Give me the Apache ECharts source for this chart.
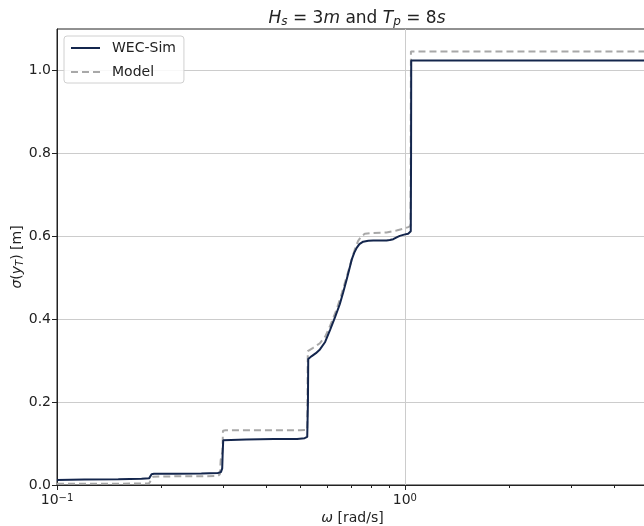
<!DOCTYPE html>
<html>
<head>
<meta charset="utf-8">
<script src="https://cdn.jsdelivr.net/npm/echarts@6/dist/echarts.min.js"></script>
<style>
html,body{margin:0;padding:0;background:#fff;}
#c{width:644px;height:526px;}
</style>
</head>
<body>
<div id="c"></div>
<script>
// ---- data ----
const wecOmega = [0.100,0.120,0.150,0.175,0.184,0.1855,0.187,0.190,0.220,0.260,0.290,0.296,0.2985,0.2995,0.3005,0.303,0.350,0.420,0.490,0.515,0.524,0.5265,0.5275,0.532,0.540,0.555,0.570,0.590,0.610,0.630,0.650,0.665,0.680,0.692,0.703,0.715,0.727,0.740,0.759,0.785,0.811,0.850,0.886,0.905,0.926,0.950,0.967,0.995,1.022,1.035,1.040,1.042,1.043,2.000,5.000];
const wecSigma = [0.012,0.013,0.014,0.015,0.016,0.020,0.026,0.027,0.027,0.028,0.029,0.031,0.040,0.080,0.108,0.110,0.110,0.111,0.111,0.113,0.116,0.200,0.304,0.306,0.311,0.318,0.327,0.345,0.375,0.405,0.436,0.465,0.495,0.520,0.543,0.560,0.572,0.581,0.587,0.589,0.590,0.590,0.590,0.591,0.593,0.598,0.601,0.604,0.606,0.609,0.612,0.800,1.024,1.024,1.024];

const modelOmega = [0.100,0.150,0.184,0.1865,0.189,0.220,0.260,0.290,0.294,0.2955,0.2975,0.299,0.300,0.305,0.400,0.500,0.524,0.526,0.532,0.545,0.570,0.590,0.609,0.636,0.655,0.672,0.690,0.703,0.718,0.734,0.750,0.767,0.811,0.886,0.946,0.990,1.022,1.038,1.040,1.041,5.000];
const modelSigma = [0.003,0.003,0.004,0.012,0.020,0.021,0.021,0.022,0.026,0.060,0.073,0.080,0.131,0.132,0.132,0.132,0.133,0.323,0.324,0.331,0.342,0.358,0.383,0.423,0.455,0.487,0.520,0.543,0.568,0.589,0.600,0.606,0.608,0.609,0.614,0.618,0.622,0.625,0.900,1.046,1.046];

const seriesNames = ['WEC-Sim', 'Model'];
const xMin = 0.1, xMax = 5;
const yMin = 0, yMax = 1.1;
const yTicks = [0, 0.2, 0.4, 0.6, 0.8, 1.0];
const xMinorTicks = [0.2,0.3,0.4,0.5,0.6,0.7,0.8,0.9,2,3,4];

const pairs = (xs, ys) => xs.map((x, i) => [x, ys[i]]);

const FONT = 'DejaVu Sans';
const chart = echarts.init(document.getElementById('c'), null, {renderer: 'canvas'});

const xLabelFmt = v => {
  const e = Math.log10(v);
  const r = Math.round(e);
  if (Math.abs(e - r) > 1e-6) return '';
  return '{b|10}{s|' + (r < 0 ? '\u2212' + (-r) : r) + '}';
};

const txt = (size, italic) => ({fontFamily: FONT, fontSize: size, fontWeight: 'normal', fontStyle: italic ? 'italic' : 'normal', color: '#222'});

const option = {
  backgroundColor: '#ffffff',
  animation: false,
  title: {
    text: '{i|H}{sub|s}{n| = 3}{i|m}{n| and }{i|T}{sub|p}{n| = 8}{i|s}',
    left: 352, top: 5, textAlign: 'center',
    textStyle: {
      fontWeight: 'normal', fontFamily: FONT, fontSize: 17,
      rich: {
        n: txt(17, false),
        i: txt(17, true),
        sub: Object.assign(txt(12, true), {verticalAlign: 'bottom', padding: [6,0,0,0]})
      }
    }
  },
  legend: {
    orient: 'vertical',
    left: 64, top: 36,
    padding: [5, 8, 4, 6],
    itemWidth: 29, itemHeight: 13, itemGap: 10,
    itemStyle: {opacity: 0},
    backgroundColor: 'rgba(255,255,255,0.85)',
    borderColor: '#d0d0d0', borderWidth: 1, borderRadius: 3,
    textStyle: {fontFamily: FONT, fontSize: 14, color: '#222', padding: [0,0,0,7]},
    data: seriesNames
  },
  grid: {
    left: 57, top: 29, right: -4, bottom: 41,
    outerBoundsMode: 'none',
    containLabel: false,
    show: true, borderColor: '#222', borderWidth: 1, backgroundColor: '#fff'
  },
  xAxis: [{
    type: 'log', logBase: 10, min: xMin, max: xMax,
    position: 'bottom',
    name: '{i|\u03c9}{n| [rad/s]}',
    nameLocation: 'middle', nameGap: 26, nameMoveOverlap: false,
    nameTextStyle: {
      rich: {n: txt(14, false), i: txt(14, true)}
    },
    axisLine: {show: true, lineStyle: {color: '#222', width: 1}},
    axisTick: {show: true, length: 5, inside: false, lineStyle: {color: '#222'}},
    axisLabel: {
      formatter: xLabelFmt, margin: 8, showMaxLabel: false,
      rich: {
        b: Object.assign(txt(14, false), {verticalAlign: 'bottom'}),
        s: Object.assign(txt(10, false), {verticalAlign: 'top'})
      }
    },
    splitLine: {show: true, lineStyle: {color: '#cccccc', width: 1}},
    minorTick: {show: false}
  }, {
    type: 'log', logBase: 10, min: xMin, max: xMax,
    position: 'bottom',
    axisLine: {show: false},
    axisTick: {show: true, length: 3, lineStyle: {color: '#222'}, customValues: xMinorTicks},
    axisLabel: {show: false},
    splitLine: {show: false}
  }],
  yAxis: {
    type: 'value', min: yMin, max: yMax,
    name: '{i|\u03c3}{n|(}{i|y}{sub|T}{n|) [m]}',
    nameLocation: 'middle', nameRotate: 90, nameGap: 32, nameMoveOverlap: false,
    nameTextStyle: {
      rich: {
        n: txt(14, false), i: txt(14, true),
        sub: Object.assign(txt(10, true), {verticalAlign: 'bottom', padding: [6,0,0,0]})
      }
    },
    axisLine: {show: true, lineStyle: {color: '#222', width: 1}},
    axisTick: {show: true, length: 5, lineStyle: {color: '#222'}, customValues: yTicks},
    axisLabel: {
      customValues: yTicks,
      formatter: v => v.toFixed(1),
      fontFamily: FONT, fontSize: 14, color: '#222', margin: 6
    },
    splitLine: {show: true, lineStyle: {color: '#cccccc', width: 1}}
  },
  series: [{
    name: seriesNames[0], type: 'line', xAxisIndex: 0,
    data: pairs(wecOmega, wecSigma),
    showSymbol: false, symbol: 'none',
    lineStyle: {color: '#14264d', width: 2},
    itemStyle: {color: '#14264d'},
    z: 3
  }, {
    name: seriesNames[1], type: 'line', xAxisIndex: 0,
    data: pairs(modelOmega, modelSigma),
    showSymbol: false, symbol: 'none',
    lineStyle: {color: '#a8a8a8', width: 2, type: [7, 4]},
    itemStyle: {color: '#a8a8a8'},
    z: 2
  }]
};
chart.setOption(option);
</script>
</body>
</html>
